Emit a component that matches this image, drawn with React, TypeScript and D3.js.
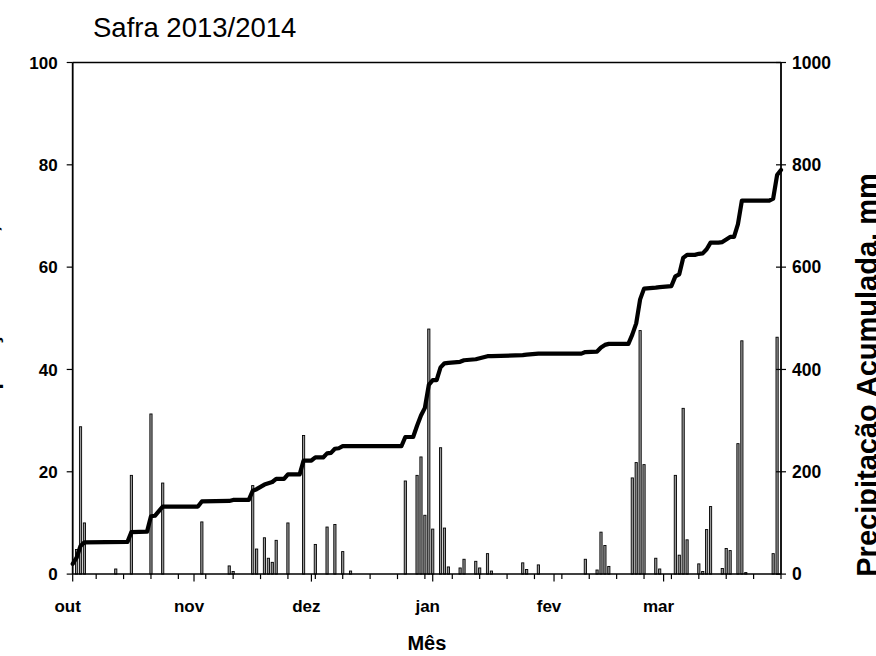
import React from "react";
import * as d3 from "d3";

// ---- data ----
const barDates = [
  "2013-10-02","2013-10-03","2013-10-04","2013-10-12","2013-10-16","2013-10-21","2013-10-24",
  "2013-11-03","2013-11-10","2013-11-11","2013-11-16","2013-11-17","2013-11-19","2013-11-20",
  "2013-11-21","2013-11-22","2013-11-25","2013-11-29",
  "2013-12-02","2013-12-05","2013-12-07","2013-12-09","2013-12-11","2013-12-25","2013-12-28",
  "2013-12-29","2013-12-30","2013-12-31",
  "2014-01-01","2014-01-03","2014-01-04","2014-01-05","2014-01-08","2014-01-09","2014-01-12",
  "2014-01-13","2014-01-15","2014-01-16","2014-01-24","2014-01-25","2014-01-28",
  "2014-02-09","2014-02-12","2014-02-13","2014-02-14","2014-02-15","2014-02-21","2014-02-22",
  "2014-02-23","2014-02-24","2014-02-27","2014-02-28",
  "2014-03-04","2014-03-05","2014-03-06","2014-03-07","2014-03-10","2014-03-11","2014-03-12",
  "2014-03-13","2014-03-16","2014-03-17","2014-03-18","2014-03-20","2014-03-21","2014-03-22",
  "2014-03-29","2014-03-30",
];
const barValues = [
  4.8, 28.8, 10.0, 1.0, 19.3, 31.3, 17.8,
  10.2, 1.6, 0.5, 17.3, 4.9, 7.1, 3.1,
  2.3, 6.6, 10.0, 27.1,
  5.8, 9.2, 9.7, 4.4, 0.6, 18.2, 19.3,
  22.9, 11.5, 47.9,
  8.8, 24.7, 9.0, 1.4, 1.2, 2.9, 2.5,
  1.2, 4.0, 0.6, 2.2, 0.9, 1.8,
  2.9, 0.8, 8.2, 5.6, 1.5, 18.8, 21.8,
  47.6, 21.4, 3.1, 1.0,
  19.3, 3.7, 32.4, 6.7, 2.0, 0.5, 8.7,
  13.2, 1.1, 5.0, 4.6, 25.5, 45.6, 0.3,
  4.0, 46.3,
];

const lineDates = [
  "2013-10-01","2013-10-02","2013-10-03","2013-10-04","2013-10-15","2013-10-16","2013-10-20",
  "2013-10-21","2013-10-22","2013-10-24","2013-11-02","2013-11-03","2013-11-10","2013-11-11",
  "2013-11-15","2013-11-16","2013-11-17","2013-11-19","2013-11-21","2013-11-22","2013-11-24",
  "2013-11-25","2013-11-28","2013-11-29","2013-12-01","2013-12-02","2013-12-04","2013-12-05",
  "2013-12-06","2013-12-07","2013-12-08","2013-12-09","2013-12-24","2013-12-25","2013-12-27",
  "2013-12-28","2013-12-29","2013-12-30","2013-12-31","2014-01-01","2014-01-02","2014-01-03",
  "2014-01-04","2014-01-05","2014-01-08","2014-01-09","2014-01-12","2014-01-13","2014-01-15",
  "2014-01-16","2014-01-24","2014-01-25","2014-01-28","2014-02-08","2014-02-09","2014-02-12",
  "2014-02-13","2014-02-14","2014-02-15","2014-02-20","2014-02-21","2014-02-22","2014-02-23",
  "2014-02-24","2014-02-27","2014-02-28","2014-03-03","2014-03-04","2014-03-05","2014-03-06",
  "2014-03-07","2014-03-09","2014-03-10","2014-03-11","2014-03-12","2014-03-13","2014-03-15",
  "2014-03-16","2014-03-17","2014-03-18","2014-03-19","2014-03-20","2014-03-21","2014-03-28",
  "2014-03-29","2014-03-30","2014-03-31",
];
const lineValues = [
  20, 32, 55, 62, 63, 82, 83,
  113, 114, 132, 132, 142, 143, 145,
  145, 163, 166, 175, 180, 186, 186,
  195, 195, 222, 222, 228, 228, 236,
  237, 245, 246, 250, 250, 268, 268,
  290, 310, 325, 370, 379, 379, 404,
  412, 413, 415, 418, 420, 422, 426,
  426, 428, 429, 431, 431, 434, 435,
  443, 448, 450, 450, 468, 490, 537,
  558, 560, 561, 563, 582, 586, 618,
  624, 624, 626, 627, 635, 648, 648,
  649, 654, 659, 659, 684, 730, 730,
  734, 780, 790,
];

const leftTicks = [0, 20, 40, 60, 80, 100];
const rightTicks = [0, 200, 400, 600, 800, 1000];
const monthLabels = ["out", "nov", "dez", "jan", "fev", "mar"];
const domainStart = "2013-10-01";
const domainEnd = "2014-03-31";

const W = 876;
const H = 656;
const FONT = "'Liberation Sans', Arial, Helvetica, sans-serif";

const parse = d3.timeParse("%Y-%m-%d");

export default function App() {
  const left = 72.7, right = 781, top = 62.5, bottom = 574.1;
  const t0 = parse(domainStart) as Date;
  const t1 = parse(domainEnd) as Date;
  const x = d3.scaleTime().domain([t0, t1]).range([left, right]);
  const yL = d3.scaleLinear().domain([0, 100]).range([bottom, top]);
  const yR = d3.scaleLinear().domain([0, 1000]).range([bottom, top]);

  const bars = barDates.map((d, i) => ({ date: parse(d) as Date, v: barValues[i] }));
  const linePts = lineDates.map((d, i) => ({ date: parse(d) as Date, v: lineValues[i] }));
  const lineGen = d3
    .line<{ date: Date; v: number }>()
    .x((d) => x(d.date))
    .y((d) => yR(d.v));

  const weekTicks = d3.timeDay.range(new Date(2013, 9, 7), d3.timeDay.offset(t1, 1), 7);
  const monthTicks = d3.timeMonth.range(t0, d3.timeDay.offset(t1, 1));

  const barW = 2.2;

  return (
    <svg
      width={W}
      height={H}
      style={{ position: "absolute", left: 0, top: 0, background: "#fff" }}
      fontFamily={FONT}
    >
      <rect x={0} y={0} width={W} height={H} fill="#fff" />
      {/* title */}
      <text x={93} y={37} fontSize={27.5} fill="#000">
        Safra 2013/2014
      </text>

      {/* bars */}
      {bars.map((b, i) => (
        <rect
          key={i}
          x={x(b.date) - barW / 2}
          y={yL(b.v)}
          width={barW}
          height={Math.max(0, bottom - yL(b.v))}
          fill="#999"
          stroke="#000"
          strokeWidth={0.9}
        />
      ))}

      {/* cumulative line */}
      <path
        d={lineGen(linePts) || ""}
        fill="none"
        stroke="#000"
        strokeWidth={4.2}
        strokeLinejoin="round"
        strokeLinecap="round"
      />

      {/* frame */}
      <line x1={left} x2={right} y1={top} y2={top} stroke="#000" strokeWidth={1.5} />
      <line x1={left} x2={right} y1={bottom} y2={bottom} stroke="#000" strokeWidth={1.5} />
      <line x1={left} x2={left} y1={top} y2={bottom} stroke="#000" strokeWidth={1.8} />
      <line x1={right} x2={right} y1={top} y2={bottom} stroke="#000" strokeWidth={1.8} />

      {/* left axis ticks */}
      {leftTicks.map((t) => (
        <g key={"l" + t}>
          <line x1={left - 6} x2={left} y1={yL(t)} y2={yL(t)} stroke="#000" strokeWidth={1.2} />
          <text
            x={left - 15}
            y={yL(t)}
            dy="0.36em"
            textAnchor="end"
            fontSize={17}
            fontWeight="bold"
          >
            {t}
          </text>
        </g>
      ))}

      {/* right axis ticks */}
      {rightTicks.map((t) => (
        <g key={"r" + t}>
          <line x1={right - 5} x2={right + 5} y1={yR(t)} y2={yR(t)} stroke="#000" strokeWidth={1.2} />
          <text x={right + 11} y={yR(t)} dy="0.36em" textAnchor="start" fontSize={17.5} fontWeight="bold">
            {t}
          </text>
        </g>
      ))}

      {/* x axis ticks */}
      {weekTicks.map((d, i) => (
        <line key={"w" + i} x1={x(d)} x2={x(d)} y1={bottom} y2={bottom + 5} stroke="#000" strokeWidth={1.2} />
      ))}
      {monthTicks.map((d, i) => (
        <line key={"m" + i} x1={x(d)} x2={x(d)} y1={bottom} y2={bottom + 7.5} stroke="#000" strokeWidth={1.2} />
      ))}
      {monthTicks.map((d, i) => (
        <text
          key={"ml" + i}
          x={x(d) - 5}
          y={612}
          textAnchor="middle"
          fontSize={17}
          fontWeight="bold"
        >
          {monthLabels[i]}
        </text>
      ))}

      {/* axis titles */}
      <text x={(left + right) / 2} y={650} textAnchor="middle" fontSize={20} fontWeight="bold">
        Mês
      </text>
      <text
        transform={`translate(-2, ${(top + bottom) / 2 - 6}) rotate(-90)`}
        textAnchor="middle"
        fontSize={24}
        fontWeight="bold"
      >
        Precipitação Diária, mm
      </text>
      <text
        transform={`translate(877, 375) rotate(-90)`}
        textAnchor="middle"
        fontSize={29}
        fontWeight="bold"
      >
        Precipitação Acumulada. mm
      </text>
    </svg>
  );
}
